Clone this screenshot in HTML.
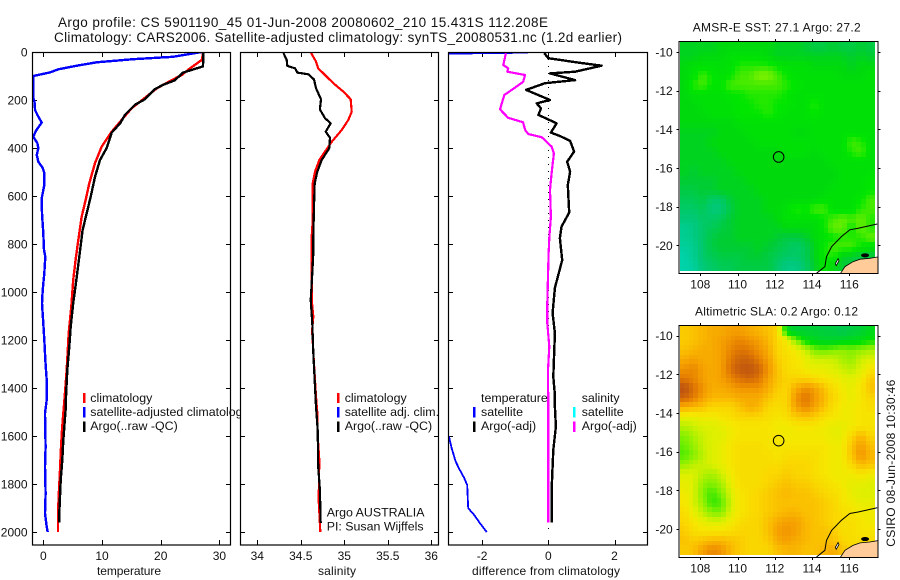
<!DOCTYPE html>
<html lang="en">
<head>
<meta charset="utf-8">
<title>Argo profile 5901190_45</title>
<style>
html,body{margin:0;padding:0;background:#fff;}
svg{display:block;font-family:"Liberation Sans",Arial,sans-serif;font-size:12px;fill:#000;}
text{fill:#111;}
.lg text{font-size:12.4px;}
</style>
</head>
<body>
<svg id="fig" xmlns="http://www.w3.org/2000/svg" width="900" height="580" viewBox="0 0 900 580">
  <defs>
    <clipPath id="clip-temp"><rect x="32.5" y="52" width="198.5" height="493"/></clipPath>
    <clipPath id="clip-sal"><rect x="240" y="52" width="199" height="493"/></clipPath>
    <clipPath id="clip-diff"><rect x="448.5" y="52" width="199.5" height="493"/></clipPath>
    <clipPath id="clip-sst"><rect x="679.5" y="42" width="198" height="231.5"/></clipPath>
    <clipPath id="clip-sla"><rect x="679.5" y="326" width="198" height="231"/></clipPath>
  </defs>
  <text x="58" y="27" font-size="13.5" textLength="490">Argo profile: CS 5901190_45 01-Jun-2008 20080602_210 15.431S 112.208E</text>
  <text x="54" y="42" font-size="13.5" textLength="568">Climatology: CARS2006. Satellite-adjusted climatology: synTS_20080531.nc (1.2d earlier)</text>
  <g id="panel-temp"></g>
  <g class="lg">
    <rect x="83" y="393" width="2.5" height="10" fill="#f00"/>
    <rect x="83" y="407" width="2.5" height="10.5" fill="#00f"/>
    <rect x="83" y="421.5" width="2.5" height="10.5" fill="#000"/>
    <text x="90.3" y="402">climatology</text>
    <text x="90.3" y="416">satellite-adjusted climatology</text>
    <text x="90.3" y="430">Argo(..raw -QC)</text>
  </g>
  <g id="panel-sal"></g>
  <g class="lg">
    <rect x="337" y="393" width="2.5" height="10" fill="#f00"/>
    <rect x="337" y="407" width="2.5" height="10.5" fill="#00f"/>
    <rect x="337" y="421.5" width="2.5" height="10.5" fill="#000"/>
    <text x="344.7" y="402">climatology</text>
    <text x="344.7" y="416">satellite adj. clim.</text>
    <text x="344.7" y="430">Argo(..raw -QC)</text>
    <text x="326.7" y="516.7">Argo AUSTRALIA</text>
    <text x="326.7" y="530.7">PI: Susan Wijffels</text>
  </g>
  <g id="panel-diff"></g>
  <g class="lg">
    <text x="481" y="402">temperature</text>
    <text x="481" y="416">satellite</text>
    <text x="481" y="430">Argo(-adj)</text>
    <rect x="473" y="407" width="2.5" height="10.5" fill="#00f"/>
    <rect x="473" y="421.5" width="2.5" height="10.5" fill="#000"/>
    <text x="581.7" y="402">salinity</text>
    <text x="581.7" y="416">satellite</text>
    <text x="581.7" y="430">Argo(-adj)</text>
    <rect x="573" y="407" width="2.5" height="10.5" fill="#0ff"/>
    <rect x="573" y="421.5" width="2.5" height="10.5" fill="#f0f"/>
  </g>
  <g id="map-sst"></g>
  <g id="map-sla"></g>
  <text x="692.7" y="31.7" textLength="168">AMSR-E SST: 27.1 Argo: 27.2</text>
  <text x="695" y="315.7" textLength="163">Altimetric SLA: 0.2 Argo: 0.12</text>
  <text transform="translate(895,546.7) rotate(-90)" textLength="167">CSIRO 08-Jun-2008 10:30:46</text>
</svg>
<script>
// ---- profile axis ticks ----
const depthTicks = [0,200,400,600,800,1000,1200,1400,1600,1800,2000];
const tempTicks = [0,10,20,30];
const salTicks = [34,34.5,35,35.5,36];
const salTickLabels = ['34','34.5','35','35.5','36'];
const diffTicks = [-2,0,2];

// ---- temperature panel ----
const tempClimDepth = [0,33,68,96,121,152,197,234,283,332,394,463,547,610,686,755,853,950,1061,1172,1325,1436,1506,1575,1658,1742,1825,1921,2000];
const tempClimValue = [27.25,27,25,23.6,21.6,19.3,17,15.06,13.36,11.65,9.95,8.8,7.84,7.27,6.55,6.13,5.57,5.1,4.77,4.33,3.99,3.65,3.4,3.19,3,2.85,2.67,2.5,2.5];
const tempSatDepth = [0,20,30,43,57,72,85,100,192,207,242,262,294,328,353,380,400,429,457,483,505,554,610,672,755,825,853,922,992,1047,1130,1228,1283,1367,1450,1506,1645,1728,1840,1921,1978,2000];
const tempSatValue = [27,22.1,15.3,9.1,5.7,2.56,1.14,-1.7,-1.7,-1.5,-1.4,-1,-0.27,-1.24,-1.7,-1,-0.85,-1.1,-0.85,-0.1,0.17,0.17,-0.27,-0.22,0,0.12,0.34,0.17,-0.1,-0.22,0,0.24,0.34,0.58,0.58,0.29,0.4,0.29,0.4,0.29,0.58,0.75];
const tempArgoDepth = [0,60,86,118,137,155,197,220,262,297,336,400,450,520,603,672,742,853,936,1047,1144,1228,1325,1436,1492,1617,1700,1783,1921,1961];
const tempArgoValue = [27.25,27.2,23.8,22.4,20.4,19,17.3,15.6,13.9,13.1,11.65,10.8,9.66,8.8,8.07,7.4,6.7,6.13,5.7,5.1,4.67,4.43,4.09,3.87,3.8,3.4,3.24,2.96,2.73,2.73];

// ---- salinity panel ----
const salClimDepth = [3,40,68,96,130,165,197,249,283,325,374,415,450,499,547,700,770,1033,1103,1160,1300,1436,1504,1600,1700,1867,2000];
const salClimValue = [34.617,34.675,34.7,34.778,34.874,34.989,35.073,35.085,35.046,34.97,34.855,34.778,34.713,34.663,34.637,34.637,34.625,34.625,34.644,34.63,34.652,34.675,34.69,34.694,34.713,34.706,34.724];
const salArgoDepth = [4,33,58,68,86,93,114,151,197,239,276,297,332,357,401,450,499,547,644,770,839,936,1033,1130,1254,1311,1395,1478,1575,1728,1825,1963];
const salArgoValue = [34.3,34.338,34.345,34.433,34.46,34.586,34.652,34.675,34.732,34.72,34.778,34.844,34.786,34.836,34.828,34.74,34.69,34.66,34.652,34.644,34.644,34.63,34.614,34.632,34.644,34.652,34.663,34.675,34.694,34.7,34.72,34.729];

// ---- difference panel ----
const diffTempSatDepth = [3,4,6,9,1590,1603,1650,1706,1742,1775,1804,1901,1929,1964,2000];
const diffTempSatValue = [-0.62,-1.5,-2.4,-4,-4,-3,-2.92,-2.8,-2.67,-2.54,-2.45,-2.42,-2.24,-2.06,-1.86];
const diffTempArgoDepth = [5,26,44,57,82,89,117,130,158,200,214,235,262,297,336,350,370,415,457,499,554,669,728,776,867,983,1088,1172,1353,1430,1478,1561,1658,1825,1961];
const diffTempArgoValue = [-0.12,0,0.91,1.61,0.81,0.05,0.81,-0.1,-0.67,0.05,-0.35,-0.22,-0.3,0.25,0.08,0.35,0.66,0.78,0.57,0.66,0.59,0.63,0.4,0.35,0.42,0.2,0.13,0.2,0.15,0.2,0.2,0.23,0.15,0.1,0.1];
const diffSalArgoDepth = [5,54,68,82,96,124,151,179,239,274,293,325,342,355,394,422,505,575,686,775,839,1046,1130,1228,1325,1500,1961];
const diffSalArgoValue = [-1.28,-1.36,-1.21,-1.24,-0.7,-0.76,-1.03,-1.33,-1.46,-1.21,-0.76,-0.7,-0.6,-0.2,0.1,0.17,0.1,0.05,0.08,0.03,0.01,-0.03,-0.03,0.03,-0.01,0,0];
const zeroLineDepth = [0,2000];
const zeroLineValue = [0,0];

// ---- maps ----
const lonTicks = [108,110,112,114,116];
const latTicks = [-10,-12,-14,-16,-18,-20];
const floatLon = [112.208];
const floatLat = [-15.431];
const coastLon = [114.24,114.69,114.78,115.05,115.58,116.03,116.48,117.5];
const coastLat = [-21.45,-21.1,-20.59,-20.07,-19.55,-19.2,-19.12,-18.9];
const landLon = [115.5,115.77,116.2,116.58,117.1,117.6,117.6,115.5];
const landLat = [-21.5,-21.1,-20.85,-20.72,-20.67,-20.59,-21.5,-21.5];
const islandLon = [115.4,115.45,115.3,115.25];
const islandLat = [-20.7,-20.8,-21.05,-20.95];
const sstGrid = [
[26.9,26.9,26.9,26.9,27.0,27.0,27.0,27.0,27.0,27.0,26.9,26.9,26.9,26.8,26.7,26.7,26.8,26.7,26.7,26.8,26.7],
[26.9,26.9,27.0,27.0,27.0,27.1,27.1,27.1,27.1,27.0,26.9,26.9,26.9,26.9,26.9,26.9,26.9,26.9,26.8,26.9,26.8],
[27.0,27.1,27.1,27.1,27.1,27.1,27.3,27.3,27.3,27.3,27.2,27.1,27.1,27.1,27.0,27.0,27.0,27.0,26.9,27.0,27.0],
[27.0,27.1,27.4,27.2,27.1,27.2,27.4,27.4,27.6,27.6,27.4,27.2,27.1,27.1,27.1,27.1,27.1,27.0,27.0,27.0,27.1],
[27.0,27.3,27.4,27.2,27.2,27.4,27.4,27.4,27.4,27.4,27.4,27.3,27.2,27.1,27.1,27.1,27.1,27.1,27.1,27.1,27.1],
[27.0,27.1,27.1,27.1,27.1,27.2,27.2,27.3,27.3,27.3,27.3,27.2,27.1,27.1,27.1,27.1,27.1,27.1,27.1,27.1,27.1],
[27.0,27.0,27.1,27.1,27.1,27.1,27.2,27.2,27.3,27.3,27.2,27.2,27.1,27.1,27.3,27.1,27.1,27.1,27.1,27.1,27.1],
[27.0,27.0,27.0,27.1,27.1,27.1,27.2,27.2,27.2,27.3,27.2,27.1,27.1,27.1,27.2,27.1,27.1,27.1,27.1,27.1,27.1],
[27.0,27.0,27.0,27.0,27.0,27.0,27.1,27.1,27.1,27.1,27.1,27.1,27.1,27.1,27.1,27.1,27.1,27.1,27.1,27.1,27.1],
[26.9,26.9,26.9,26.9,27.0,27.0,27.0,27.1,27.1,27.1,27.1,27.1,27.0,27.0,27.1,27.1,27.1,27.1,27.1,27.1,27.1],
[26.9,26.9,26.9,27.0,27.0,27.0,27.0,27.0,27.1,27.1,27.1,27.1,27.1,27.1,27.1,27.1,27.1,27.1,27.4,27.3,27.1],
[26.9,26.9,26.9,26.9,27.0,27.0,27.0,27.0,27.0,27.0,27.0,27.1,27.1,27.1,27.0,27.1,27.1,27.1,27.3,27.4,27.1],
[26.9,26.9,26.9,26.9,26.9,27.0,27.0,27.0,27.0,27.0,27.0,27.0,27.0,27.0,27.0,27.0,27.1,27.1,27.1,27.1,27.1],
[26.9,26.8,26.9,26.9,26.9,26.9,27.0,27.0,27.0,27.0,27.0,27.0,27.0,27.0,27.0,27.0,27.0,27.1,27.1,27.1,27.1],
[26.8,26.8,26.8,26.8,26.9,26.9,26.9,27.0,27.0,27.0,27.0,27.0,27.0,27.0,27.0,27.0,27.0,27.1,27.1,27.1,27.2],
[26.7,26.7,26.8,26.8,26.9,26.9,26.9,26.9,27.0,27.0,27.0,27.0,27.0,27.0,27.0,27.0,27.1,27.1,27.1,27.1,27.2],
[26.6,26.6,26.7,26.5,26.5,26.8,26.9,26.9,26.9,27.0,27.0,27.0,27.0,27.0,27.0,27.1,27.1,27.1,27.1,27.2,27.4],
[26.5,26.5,26.6,26.4,26.4,26.7,26.9,26.9,26.9,27.0,27.0,27.1,27.3,27.2,27.4,27.4,27.1,27.1,27.1,27.3,27.4],
[26.4,26.4,26.5,26.5,26.6,26.8,26.9,26.9,26.9,26.9,27.0,27.1,27.1,27.1,27.1,27.2,27.4,27.5,27.4,27.5,27.3],
[26.2,26.3,26.5,26.6,26.7,26.8,26.9,26.9,26.9,26.9,26.9,27.0,27.0,27.0,27.0,27.2,27.5,27.5,27.2,27.5,27.3],
[26.2,26.3,26.5,26.7,26.8,26.8,26.9,26.9,26.9,26.9,26.8,26.7,26.7,26.8,27.0,27.1,27.2,27.3,27.3,27.3,27.5],
[26.1,26.2,26.5,26.7,26.8,26.8,26.8,26.8,26.9,26.8,26.7,26.6,26.5,26.6,26.9,27.2,27.4,27.4,27.4,27.2,27.1],
[26.0,26.2,26.5,26.6,26.7,26.7,26.7,26.8,26.8,26.7,26.6,26.5,26.5,26.6,26.9,27.2,27.3,26.9,26.8,26.7,26.7],
[26.0,26.1,26.4,26.5,26.6,26.6,26.7,26.7,26.7,26.7,26.5,26.3,26.3,26.5,26.8,27.2,27.0,26.8,26.7,26.6,26.7]
];
const slaGrid = [
[.32,.34,.36,.38,.38,.40,.40,.38,.36,.34,.30,-.05,-.1,-.1,-.1,-.12,-.12,-.15,-.12,-.1,-.05],
[.32,.34,.36,.38,.40,.42,.44,.42,.40,.36,.30,.24,.1,-.02,-.05,-.08,-.08,-.06,-.05,-.03,0],
[.34,.36,.38,.38,.40,.44,.47,.46,.42,.38,.30,.27,.24,.18,.1,.08,.1,.12,.1,.12,.14],
[.38,.40,.38,.38,.40,.46,.50,.50,.45,.40,.32,.28,.26,.22,.18,.18,.18,.14,.12,.18,.2],
[.42,.44,.40,.38,.40,.48,.52,.53,.50,.42,.34,.28,.27,.24,.22,.22,.2,.18,.16,.2,.26],
[.46,.44,.40,.38,.40,.44,.48,.50,.47,.40,.34,.3,.3,.3,.28,.26,.24,.22,.2,.24,.32],
[.54,.48,.42,.38,.38,.40,.42,.42,.42,.38,.32,.3,.38,.42,.40,.34,.28,.24,.22,.26,.34],
[.50,.46,.40,.36,.36,.36,.38,.38,.38,.34,.3,.3,.42,.47,.42,.36,.30,.26,.22,.26,.3],
[.38,.36,.34,.3,.3,.3,.34,.38,.36,.3,.28,.3,.4,.44,.4,.34,.28,.24,.24,.26,.28],
[.22,.22,.24,.24,.26,.28,.3,.3,.3,.28,.26,.28,.32,.34,.32,.28,.26,.24,.24,.26,.26],
[.16,.18,.2,.2,.22,.24,.26,.26,.26,.26,.24,.24,.26,.26,.26,.24,.22,.22,.24,.26,.26],
[.1,.14,.18,.2,.2,.24,.26,.26,.26,.26,.26,.24,.24,.24,.24,.24,.22,.22,.3,.36,.3],
[.08,.12,.18,.2,.22,.26,.28,.28,.28,.26,.26,.26,.26,.26,.26,.26,.24,.24,.34,.4,.34],
[.06,.1,.16,.2,.22,.26,.28,.28,.28,.28,.26,.28,.28,.28,.28,.26,.24,.24,.34,.42,.36],
[.12,.16,.18,.2,.22,.26,.28,.28,.28,.28,.28,.3,.3,.3,.28,.26,.24,.24,.3,.36,.34],
[.2,.2,.16,.14,.18,.24,.28,.28,.28,.3,.3,.32,.3,.3,.28,.26,.24,.24,.24,.26,.24],
[.22,.2,.12,.1,.14,.22,.28,.28,.28,.3,.32,.34,.32,.32,.3,.28,.26,.24,.22,.22,.2],
[.24,.2,.1,.05,.1,.2,.26,.28,.3,.32,.34,.36,.34,.34,.32,.3,.28,.26,.22,.2,.2],
[.26,.2,.12,.04,.06,.18,.26,.28,.3,.32,.34,.34,.34,.34,.34,.32,.3,.26,.24,.22,.22],
[.28,.22,.16,.1,.1,.2,.26,.28,.3,.32,.34,.36,.36,.34,.34,.32,.3,.28,.26,.24,.24],
[.3,.26,.22,.2,.2,.24,.28,.3,.3,.34,.38,.4,.4,.36,.34,.32,.3,.28,.28,.26,.24],
[.32,.28,.26,.26,.26,.28,.3,.3,.3,.34,.4,.42,.4,.36,.34,.34,.32,.28,.28,.26,.26],
[.34,.32,.34,.36,.36,.34,.32,.3,.3,.32,.38,.4,.38,.36,.34,.34,.34,.3,.28,.28,.28],
[.32,.34,.4,.44,.42,.36,.32,.3,.3,.3,.34,.36,.36,.34,.34,.36,.38,.34,.3,.3,.3]
];
// colour ramps: value breakpoints and RGB colours for each map
const sstRampValue = [26.0,26.4,26.8,27.0,27.2,27.4,27.6,27.8];
const sstRampColor = [[0,210,170],[0,200,120],[0,205,50],[0,218,12],[0,230,0],[70,235,0],[130,240,0],[160,240,0]];
const slaRampValue = [-0.15,0,0.1,0.2,0.25,0.3,0.35,0.4,0.45,0.5,0.55];
const slaRampColor = [[0,200,80],[0,225,0],[130,240,0],[222,240,0],[245,232,0],[250,214,0],[250,188,0],[245,160,0],[230,128,0],[205,100,10],[180,75,20]];

const NS = 'http://www.w3.org/2000/svg';
function make(parent, tag, attrs, text){
  const el = document.createElementNS(NS, tag);
  for (const k in attrs) el.setAttribute(k, attrs[k]);
  if (text !== undefined) el.textContent = text;
  parent.appendChild(el);
  return el;
}
function yDepth(d){ return 52 + d * 0.24; }

function drawSeries(parent, name, clip, xf, depths, values, color, width, dash){
  const pts = depths.map((d,i) => xf(values[i]).toFixed(1) + ',' + yDepth(d).toFixed(1)).join(' ');
  const attrs = {points:pts, fill:'none', stroke:color, 'stroke-width':width, 'clip-path':'url(#'+clip+')', 'shape-rendering':'crispEdges', 'stroke-linejoin':'round'};
  if (dash) attrs['stroke-dasharray'] = dash;
  const line = make(parent, 'polyline', attrs);
  
  
}

function drawPanel(parent, left, right, xf, xTicks, xLabels, xTitle, xTitleX, titleLen, showDepthLabels){
  const bg = make(parent, 'rect', {x:left, y:52, width:right-left, height:493, fill:'#fff'});
  
  
  xTicks.forEach((t,i) => {
    const x = Math.round(xf(t)) + 0.5;
    const tt = make(parent, 'path', {d:'M'+x+' 52v5M'+x+' 545v-5', stroke:'#000', 'stroke-width':1});
    
    
    const lb = make(parent, 'text', {x:xf(t), y:560, 'text-anchor':'middle'}, xLabels[i]);
    
    
  });
  depthTicks.forEach(d => {
    const y = Math.round(yDepth(d)) + 0.5;
    const tt = make(parent, 'path', {d:'M'+left+' '+y+'h5M'+right+' '+y+'h-5', stroke:'#000', 'stroke-width':1});
    
    
    if (showDepthLabels) {
      const lb = make(parent, 'text', {x:27.5, y:yDepth(d)+4.5, 'text-anchor':'end'}, String(d));
      
      
    }
  });
  const title = make(parent, 'text', {x:xTitleX, y:575, 'text-anchor':'middle', textLength:titleLen}, xTitle);
  
  
}
function drawBox(parent, left, right){
  const box = make(parent, 'rect', {x:left+0.5, y:52.5, width:right-left-1, height:492.5, fill:'none', stroke:'#000', 'stroke-width':1.2});
  
  
}

// Temperature
const gT = document.getElementById('panel-temp');
const xT = v => 43.3 + 5.87 * v;
drawPanel(gT, 32, 231, xT, tempTicks, tempTicks.map(String), 'temperature', 129, 64, true);
drawSeries(gT, 'climatology-line', 'clip-temp', xT, tempClimDepth, tempClimValue, '#f00', 2.4);
drawSeries(gT, 'satellite-adjusted-line', 'clip-temp', xT, tempSatDepth, tempSatValue, '#00f', 2.4);
drawSeries(gT, 'argo-line', 'clip-temp', xT, tempArgoDepth, tempArgoValue, '#000', 2.4);
drawBox(gT, 32, 231);

// Salinity
const gS = document.getElementById('panel-sal');
const xS = v => 257.3 + 87 * (v - 34);
drawPanel(gS, 240, 439, xS, salTicks, salTickLabels, 'salinity', 337, 38, false);
drawSeries(gS, 'climatology-line', 'clip-sal', xS, salClimDepth, salClimValue, '#f00', 2.2);
drawSeries(gS, 'argo-line', 'clip-sal', xS, salArgoDepth, salArgoValue, '#000', 2.2);
drawBox(gS, 240, 439);

// Difference
const gD = document.getElementById('panel-diff');
const xD = v => 548.3 + 33.1 * v;
drawPanel(gD, 448, 648, xD, diffTicks, diffTicks.map(String), 'difference from climatology', 546, 148, false);
drawSeries(gD, 'zero-line', 'clip-diff', xD, zeroLineDepth, zeroLineValue, '#000', 1, '1 6');
drawSeries(gD, 'satellite-temperature-difference-line', 'clip-diff', xD, diffTempSatDepth, diffTempSatValue, '#00f', 1.8);
drawSeries(gD, 'argo-salinity-difference-line', 'clip-diff', xD, diffSalArgoDepth, diffSalArgoValue, '#f0f', 2.2);
drawSeries(gD, 'argo-temperature-difference-line', 'clip-diff', xD, diffTempArgoDepth, diffTempArgoValue, '#000', 2.4);
drawBox(gD, 448, 648);

// Maps
function rampColor(v, rv, rc){
  if (v <= rv[0]) return rc[0];
  for (let i = 1; i < rv.length; i++) {
    if (v <= rv[i]) {
      const f = (v - rv[i-1]) / (rv[i] - rv[i-1]);
      return rc[i-1].map((c,k) => Math.round(c + f * (rc[i][k] - c)));
    }
  }
  return rc[rc.length-1];
}
function sample(grid, r, c){
  const nr = grid.length, nc = grid[0].length;
  const u = Math.max(0, Math.min(nc-1, (c+0.5)/2 - 0.5));
  const w = Math.max(0, Math.min(nr-1, (r+0.5)/2 - 0.5));
  const c0 = Math.floor(u), r0 = Math.floor(w);
  const c1 = Math.min(nc-1, c0+1), r1 = Math.min(nr-1, r0+1);
  const fu = u-c0, fw = w-r0;
  return (grid[r0][c0]*(1-fu)+grid[r0][c1]*fu)*(1-fw) + (grid[r1][c0]*(1-fu)+grid[r1][c1]*fu)*fw;
}
function drawMap(parent, top, bottom, y10, imgBottom, clip, grid, rv, rc){
  const left = 679.5, right = 877.5, imgRight = 875;
  const lonX = lon => 700.3 + (lon - 108) * 18.62;
  const latY = lat => y10 + (-10 - lat) * 19.33;
  const cellGroup = make(parent, 'g', {'shape-rendering':'crispEdges'});
  
  
  const nc = grid[0].length * 2, nr = grid.length * 2;
  const cw = (imgRight - left) / nc, ch = (imgBottom - top) / nr;
  for (let r = 0; r < nr; r++) {
    for (let c = 0; c < nc; c++) {
      const x0 = Math.round(left + c*cw), x1 = Math.round(left + (c+1)*cw);
      const y0 = Math.round(top + r*ch), y1 = Math.round(top + (r+1)*ch);
      const col = rampColor(sample(grid, r, c), rv, rc);
      const cell = make(cellGroup, 'rect', {x:x0, y:y0, width:x1-x0, height:y1-y0, fill:'rgb('+col.join(',')+')'});
      
      
    }
  }
  const land = make(parent, 'polygon', {points:landLon.map((l,i)=>lonX(l).toFixed(1)+','+latY(landLat[i]).toFixed(1)).join(' '), fill:'#ffcc99', stroke:'#000', 'stroke-width':0.8, 'clip-path':'url(#'+clip+')'});
  
  
  const coast = make(parent, 'polyline', {points:coastLon.map((l,i)=>lonX(l).toFixed(1)+','+latY(coastLat[i]).toFixed(1)).join(' '), fill:'none', stroke:'#000', 'stroke-width':1, 'clip-path':'url(#'+clip+')'});
  
  
  const island = make(parent, 'polygon', {points:islandLon.map((l,i)=>lonX(l).toFixed(1)+','+latY(islandLat[i]).toFixed(1)).join(' '), fill:'#fff', stroke:'#000', 'stroke-width':0.8});
  
  
  const shoal = make(parent, 'ellipse', {cx:lonX(116.85), cy:latY(-20.52), rx:4, ry:2, fill:'#000'});
  
  
  const marker = make(parent, 'circle', {cx:lonX(floatLon[0]), cy:latY(floatLat[0]), r:5.3, fill:'none', stroke:'#000', 'stroke-width':1});
  
  
  const frame = make(parent, 'rect', {x:left-0.5, y:top-0.5, width:right-left+1, height:bottom-top+1, fill:'none', stroke:'#000', 'stroke-width':1});
  
  
  lonTicks.forEach(l => {
    const x = Math.round(lonX(l)) + 0.5;
    const t = make(parent, 'path', {d:'M'+x+' '+(top-3)+'v3M'+x+' '+bottom+'v3', stroke:'#000', 'stroke-width':1});
    
    
    const lb = make(parent, 'text', {x:lonX(l), y:bottom+15.5, 'text-anchor':'middle'}, String(l));
    
    
  });
  latTicks.forEach(l => {
    const y = Math.round(latY(l)) + 0.5;
    const t = make(parent, 'path', {d:'M'+(left-3)+' '+y+'h3M'+right+' '+y+'h3', stroke:'#000', 'stroke-width':1});
    
    
    const lb = make(parent, 'text', {x:672.7, y:latY(l)+4.5, 'text-anchor':'end'}, String(l));
    
    
  });
}
drawMap(document.getElementById('map-sst'), 42, 273, 52, 271, 'clip-sst', sstGrid, sstRampValue, sstRampColor);
drawMap(document.getElementById('map-sla'), 326, 557, 335.7, 555, 'clip-sla', slaGrid, slaRampValue, slaRampColor);
</script>
</body>
</html>
